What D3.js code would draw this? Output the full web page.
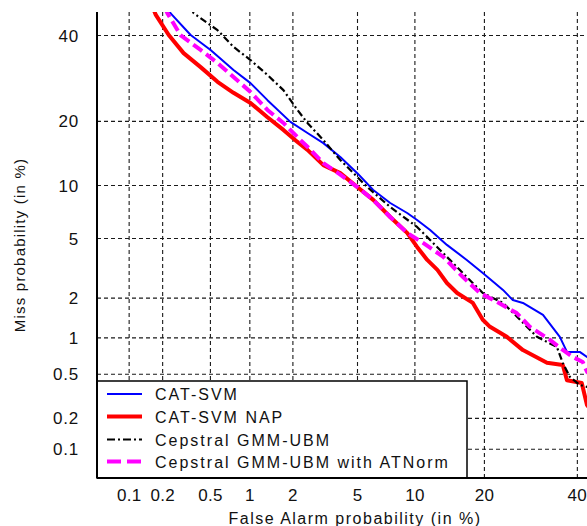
<!DOCTYPE html>
<html>
<head>
<meta charset="utf-8">
<script src="https://cdn.jsdelivr.net/npm/d3@7"></script>
<style>
  html, body { margin: 0; padding: 0; background: #fff; }
  svg { display: block; }
  text { font-family: "Liberation Sans", Arial, sans-serif; fill: #111; }
</style>
</head>
<body>
<svg id="chart" width="587" height="526"></svg>
<script>
// ---------------- data (percent) ----------------
const xTicks = [0.1, 0.2, 0.5, 1, 2, 5, 10, 20, 40];
const xTickLabels = ["0.1", "0.2", "0.5", "1", "2", "5", "10", "20", "40"];
const yTicks = [0.1, 0.2, 0.5, 1, 2, 5, 10, 20, 40];
const yTickLabels = ["0.1", "0.2", "0.5", "1", "2", "5", "10", "20", "40"];
const xLimits = [0.05, 42.5];
const yLimits = [0.05, 46.2];

const seriesNames = ["CAT-SVM", "CAT-SVM NAP", "Cepstral GMM-UBM", "Cepstral GMM-UBM with ATNorm"];

const catSvmFA   = [0.225, 0.236, 0.349, 0.506, 0.762, 1.02, 1.35, 1.94, 2.51, 3.16, 4.0, 5.02, 6.15, 7.57, 9.22, 10.3, 11.86, 14.1, 17.1, 19.8, 23.55, 25.5, 27.6, 32.0, 35.9, 37.6, 40.7, 42.5, 43];
const catSvmMiss = [47.5, 45.9, 40.0, 36.1, 31.1, 28.0, 24.2, 19.8, 17.75, 16.0, 13.8, 11.5, 9.41, 8.0, 7.03, 6.41, 5.59, 4.53, 3.63, 2.97, 2.27, 1.92, 1.83, 1.49, 1.01, 0.763, 0.763, 0.694, 0.69];

const napFA   = [0.165, 0.176, 0.228, 0.305, 0.421, 0.574, 0.762, 1.02, 1.35, 1.74, 2.16, 2.51, 3.16, 4.0, 5.02, 6.15, 7.57, 9.22, 10.3, 11.5, 12.8, 14.1, 15.6, 18.1, 19.8, 21.1, 24.3, 27.6, 32.9, 36.6, 37.6, 41.2, 42.5, 43];
const napMiss = [47.5, 45.4, 40.0, 35.3, 31.8, 28.3, 25.8, 23.6, 20.7, 18.3, 16.2, 14.9, 12.6, 11.5, 9.76, 8.32, 6.67, 5.37, 4.40, 3.63, 3.12, 2.54, 2.16, 1.83, 1.37, 1.21, 1.01, 0.79, 0.62, 0.595, 0.44, 0.416, 0.264, 0.25];

const gmmFA   = [0.35, 0.369, 0.574, 0.762, 1.02, 1.35, 1.74, 2.16, 2.51, 3.16, 4.0, 5.02, 5.70, 7.57, 10.3, 11.86, 14.1, 17.1, 19.8, 23.55, 27.0, 30.65, 35.2, 36.6, 38.3, 40.7, 42.5, 43];
const gmmMiss = [47.5, 45.9, 41.3, 36.9, 33.55, 29.9, 26.4, 22.15, 19.6, 16.5, 13.35, 11.0, 9.76, 7.6, 5.83, 4.86, 3.80, 2.79, 2.16, 1.83, 1.37, 1.01, 0.838, 0.618, 0.47, 0.40, 0.384, 0.38];

const atnFA   = [0.21, 0.222, 0.287, 0.421, 0.574, 0.762, 1.02, 1.35, 1.74, 2.26, 2.51, 3.16, 4.0, 5.02, 6.15, 7.57, 9.22, 11.0, 13.6, 16.5, 19.3, 22.4, 26.3, 29.1, 33.6, 36.6, 39.0, 41.45, 42.5, 43];
const atnMiss = [47.5, 45.9, 40.0, 36.1, 32.8, 29.4, 26.0, 22.15, 19.6, 16.5, 15.4, 12.9, 11.3, 9.76, 8.32, 6.67, 5.37, 4.66, 3.80, 2.79, 2.16, 1.86, 1.54, 1.21, 0.954, 0.792, 0.694, 0.630, 0.52, 0.50];

// ---------------- helpers ----------------
function probit(p) {
  const a=[-3.969683028665376e+01,2.209460984245205e+02,-2.759285104469687e+02,1.383577518672690e+02,-3.066479806614716e+01,2.506628277459239e+00];
  const b=[-5.447609879822406e+01,1.615858368580409e+02,-1.556989798598866e+02,6.680131188771972e+01,-1.328068155288572e+01];
  const c=[-7.784894002430293e-03,-3.223964580411365e-01,-2.400758277161838e+00,-2.549671665231520e+00,4.374664141464968e+00,2.938163982698783e+00];
  const d=[7.784695709041462e-03,3.224671290700398e-01,2.445134137142996e+00,3.754408661907416e+00];
  const pl = 0.02425, ph = 1 - pl;
  if (p < pl) { const q = Math.sqrt(-2*Math.log(p)); return (((((c[0]*q+c[1])*q+c[2])*q+c[3])*q+c[4])*q+c[5])/((((d[0]*q+d[1])*q+d[2])*q+d[3])*q+1); }
  if (p <= ph) { const q = p-0.5, r = q*q; return (((((a[0]*r+a[1])*r+a[2])*r+a[3])*r+a[4])*r+a[5])*q/(((((b[0]*r+b[1])*r+b[2])*r+b[3])*r+b[4])*r+1); }
  const q = Math.sqrt(-2*Math.log(1-p)); return -(((((c[0]*q+c[1])*q+c[2])*q+c[3])*q+c[4])*q+c[5])/((((d[0]*q+d[1])*q+d[2])*q+d[3])*q+1);
}

const plot = { left: 97, right: 587, top: 12, bottom: 478 };

const xs = d3.scaleLinear()
  .domain([probit(xLimits[0]/100), probit(xLimits[1]/100)])
  .range([plot.left, plot.right]);
const ys = d3.scaleLinear()
  .domain([probit(yLimits[0]/100), probit(yLimits[1]/100)])
  .range([plot.bottom, plot.top]);
const X = v => xs(probit(v/100));
const Y = v => ys(probit(v/100));

const svg = d3.select("#chart");

svg.append("defs").append("clipPath").attr("id", "clip")
  .append("rect")
  .attr("x", plot.left).attr("y", plot.top)
  .attr("width", plot.right - plot.left).attr("height", plot.bottom - plot.top);

// ---------------- grid via axes ----------------
const gridColor = "#1a1a1a";
const xGrid = d3.axisBottom(xs)
  .tickValues(xTicks.map(v => probit(v/100)))
  .tickSize(-(plot.bottom - plot.top))
  .tickSizeOuter(0)
  .tickFormat((d, i) => xTickLabels[i]);
const gx = svg.append("g").attr("transform", `translate(0,${plot.bottom})`).call(xGrid);
gx.select(".domain").remove();
gx.selectAll(".tick line")
  .attr("stroke", gridColor).attr("stroke-width", 1.1).attr("stroke-dasharray", "4,3");
gx.selectAll(".tick text")
  .attr("y", 23).attr("dy", 0)
  .style("font-size", "17px").style("letter-spacing", "0.3px").attr("fill", "#111");

const yGrid = d3.axisLeft(ys)
  .tickValues(yTicks.map(v => probit(v/100)))
  .tickSize(-(plot.right - plot.left))
  .tickSizeOuter(0)
  .tickFormat((d, i) => yTickLabels[i]);
const gy = svg.append("g").attr("transform", `translate(${plot.left},0)`).call(yGrid);
gy.select(".domain").remove();
gy.selectAll(".tick line")
  .attr("stroke", gridColor).attr("stroke-width", 1.1).attr("stroke-dasharray", "4,3");
gy.selectAll(".tick text")
  .attr("x", -18).attr("dy", "0.36em")
  .style("font-size", "17px").style("letter-spacing", "0.8px").attr("fill", "#111");

svg.selectAll(".tick text").attr("font-family", null).attr("font-size", null);
gx.attr("font-family", null).attr("font-size", null);
gy.attr("font-family", null).attr("font-size", null);

// ---------------- curves ----------------
const series = [
  { name: seriesNames[0], fa: catSvmFA, miss: catSvmMiss, color: "#0000ff", width: 2,   dash: null,      legendDash: null },
  { name: seriesNames[1], fa: napFA,    miss: napMiss,    color: "#ff0000", width: 4,   dash: null,      legendDash: null },
  { name: seriesNames[2], fa: gmmFA,    miss: gmmMiss,    color: "#000000", width: 2.2, dash: "7,3,2,3", legendDash: "8,3,2,3" },
  { name: seriesNames[3], fa: atnFA,    miss: atnMiss,    color: "#ff00ff", width: 4,   dash: "11,5",    legendDash: "14,6" }
];

const line = d3.line().x(d => X(d[0])).y(d => Y(d[1]));
const curves = svg.append("g").attr("clip-path", "url(#clip)");
series.forEach(s => {
  const pts = s.fa.map((f, i) => [f, s.miss[i]]);
  curves.append("path")
    .attr("d", line(pts))
    .attr("fill", "none")
    .attr("stroke", s.color)
    .attr("stroke-width", s.width)
    .attr("stroke-linejoin", "round")
    .attr("stroke-dasharray", s.dash);
});

// ---------------- axis lines ----------------
svg.append("line")
  .attr("x1", plot.left).attr("x2", plot.left)
  .attr("y1", plot.top).attr("y2", plot.bottom)
  .attr("stroke", "#000").attr("stroke-width", 2);
svg.append("line")
  .attr("x1", plot.left).attr("x2", plot.right)
  .attr("y1", plot.bottom).attr("y2", plot.bottom)
  .attr("stroke", "#000").attr("stroke-width", 2);

// ---------------- legend ----------------
const lg = svg.append("g");
lg.append("rect")
  .attr("x", plot.left).attr("y", 381)
  .attr("width", 467 - plot.left).attr("height", plot.bottom - 381)
  .attr("fill", "#fff").attr("stroke", "#000").attr("stroke-width", 1.5);
const rowY = [394, 416.5, 439.5, 461.5];
series.forEach((s, i) => {
  lg.append("line")
    .attr("x1", 107).attr("x2", 142)
    .attr("y1", rowY[i]).attr("y2", rowY[i])
    .attr("stroke", s.color)
    .attr("stroke-width", s.width)
    .attr("stroke-dasharray", s.legendDash);
  lg.append("text")
    .attr("x", 155).attr("y", rowY[i] + 6)
    .style("font-size", "16px").style("letter-spacing", "2.0px")
    .text(s.name);
});
svg.append("line")
  .attr("x1", plot.left).attr("x2", plot.left)
  .attr("y1", 381).attr("y2", plot.bottom)
  .attr("stroke", "#000").attr("stroke-width", 2);
svg.append("line")
  .attr("x1", plot.left).attr("x2", 467)
  .attr("y1", plot.bottom).attr("y2", plot.bottom)
  .attr("stroke", "#000").attr("stroke-width", 2);

// ---------------- titles ----------------
svg.append("text")
  .attr("x", 355).attr("y", 524)
  .attr("text-anchor", "middle")
  .style("font-size", "16px").style("letter-spacing", "1.5px")
  .text("False Alarm probability (in %)");
svg.append("text")
  .attr("transform", "translate(25,245) rotate(-90)")
  .attr("text-anchor", "middle")
  .style("font-size", "15px").style("letter-spacing", "1.2px")
  .text("Miss probability (in %)");
</script>
</body>
</html>
